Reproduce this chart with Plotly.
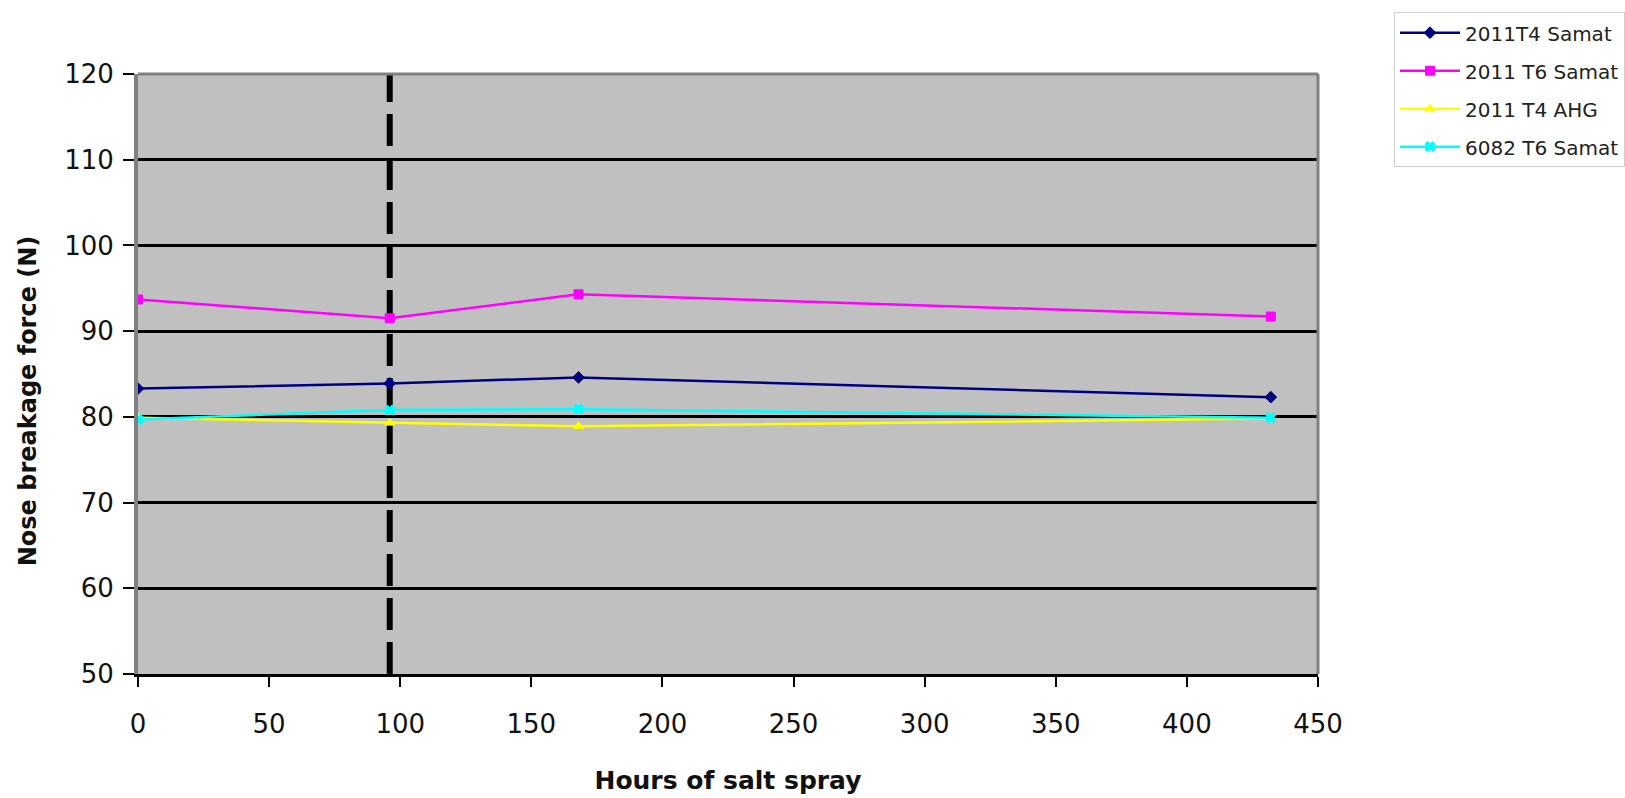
import plotly.graph_objects as go

hours = [0, 96, 168, 432]
series_names = ["2011T4 Samat", "2011 T6 Samat", "2011 T4 AHG", "6082 T6 Samat"]
t4_samat = [83.3, 83.9, 84.6, 82.3]
t6_samat = [93.7, 91.5, 94.3, 91.7]
t4_ahg = [79.9, 79.3, 78.9, 79.8]
t6_6082 = [79.7, 80.8, 80.9, 79.9]
marker_hour = 96

x_ticks = [0, 50, 100, 150, 200, 250, 300, 350, 400, 450]
y_ticks = [50, 60, 70, 80, 90, 100, 110, 120]

colors = ["#000080", "#FF00FF", "#FFFF00", "#00FFFF"]
symbols = ["diamond", "square", "triangle-up", "x"]
values = [t4_samat, t6_samat, t4_ahg, t6_6082]

fig = go.Figure()
for i, (name, vals) in enumerate(zip(series_names, values)):
    fig.add_trace(go.Scatter(
        x=hours, y=vals, name=name, mode="lines+markers",
        legendgroup=f"g{i}",
        line=dict(color=colors[i], width=2.5),
        marker=dict(color=colors[i], symbol=symbols[i], size=9,
                    line=dict(color=colors[i], width=1)),
    ))

fig.add_shape(type="line", xref="x", yref="y", x0=marker_hour, x1=marker_hour,
              y0=y_ticks[0], y1=y_ticks[-1], layer="below",
              line=dict(color="black", width=6, dash="32px,12px"))
# frame top and right (grey)
fig.add_shape(type="line", xref="paper", yref="paper", x0=0, x1=1, y0=1, y1=1,
              line=dict(color="#808080", width=3))
fig.add_shape(type="line", xref="paper", yref="paper", x0=1, x1=1, y0=0, y1=1,
              line=dict(color="#808080", width=3))

fig.add_annotation(text="<b>Nose breakage force (N)</b>", textangle=-90,
                   xref="paper", yref="paper", x=-0.093, y=0.455,
                   xanchor="center", yanchor="middle", showarrow=False,
                   font=dict(family="DejaVu Sans", size=24, color="#111"))

fig.update_layout(
    width=1625, height=798,
    margin=dict(l=138, r=307, t=74, b=124, autoexpand=False),
    paper_bgcolor="white", plot_bgcolor="#C0C0C0",
    font=dict(family="DejaVu Sans", color="#111"),
    showlegend=True,
    legend=dict(x=1.0644, y=1.103, xanchor="left", yanchor="top",
                bgcolor="white", bordercolor="#d0d0d0", borderwidth=1,
                font=dict(family="DejaVu Sans", size=20, color="#222"),
                itemwidth=60, tracegroupgap=9),
    xaxis=dict(range=[0, 450], tickvals=x_ticks, showgrid=False, zeroline=False,
               showline=True, linecolor="black", linewidth=3,
               ticks="outside", ticklen=10, tickwidth=2, tickcolor="black",
               ticklabelstandoff=15,
               tickfont=dict(family="DejaVu Sans", size=26, color="#111"),
               title=dict(text="<b>Hours of salt spray</b>", standoff=34,
                          font=dict(family="DejaVu Sans", size=25, color="#111"))),
    yaxis=dict(range=[50, 120], tickvals=y_ticks, showgrid=True, gridcolor="black",
               gridwidth=3, zeroline=False,
               showline=True, linecolor="#808080", linewidth=4,
               ticks="outside", ticklen=11, tickwidth=2, tickcolor="black",
               ticklabelstandoff=4,
               tickfont=dict(family="DejaVu Sans", size=26, color="#111")),
)

fig.write_html("out.html")
